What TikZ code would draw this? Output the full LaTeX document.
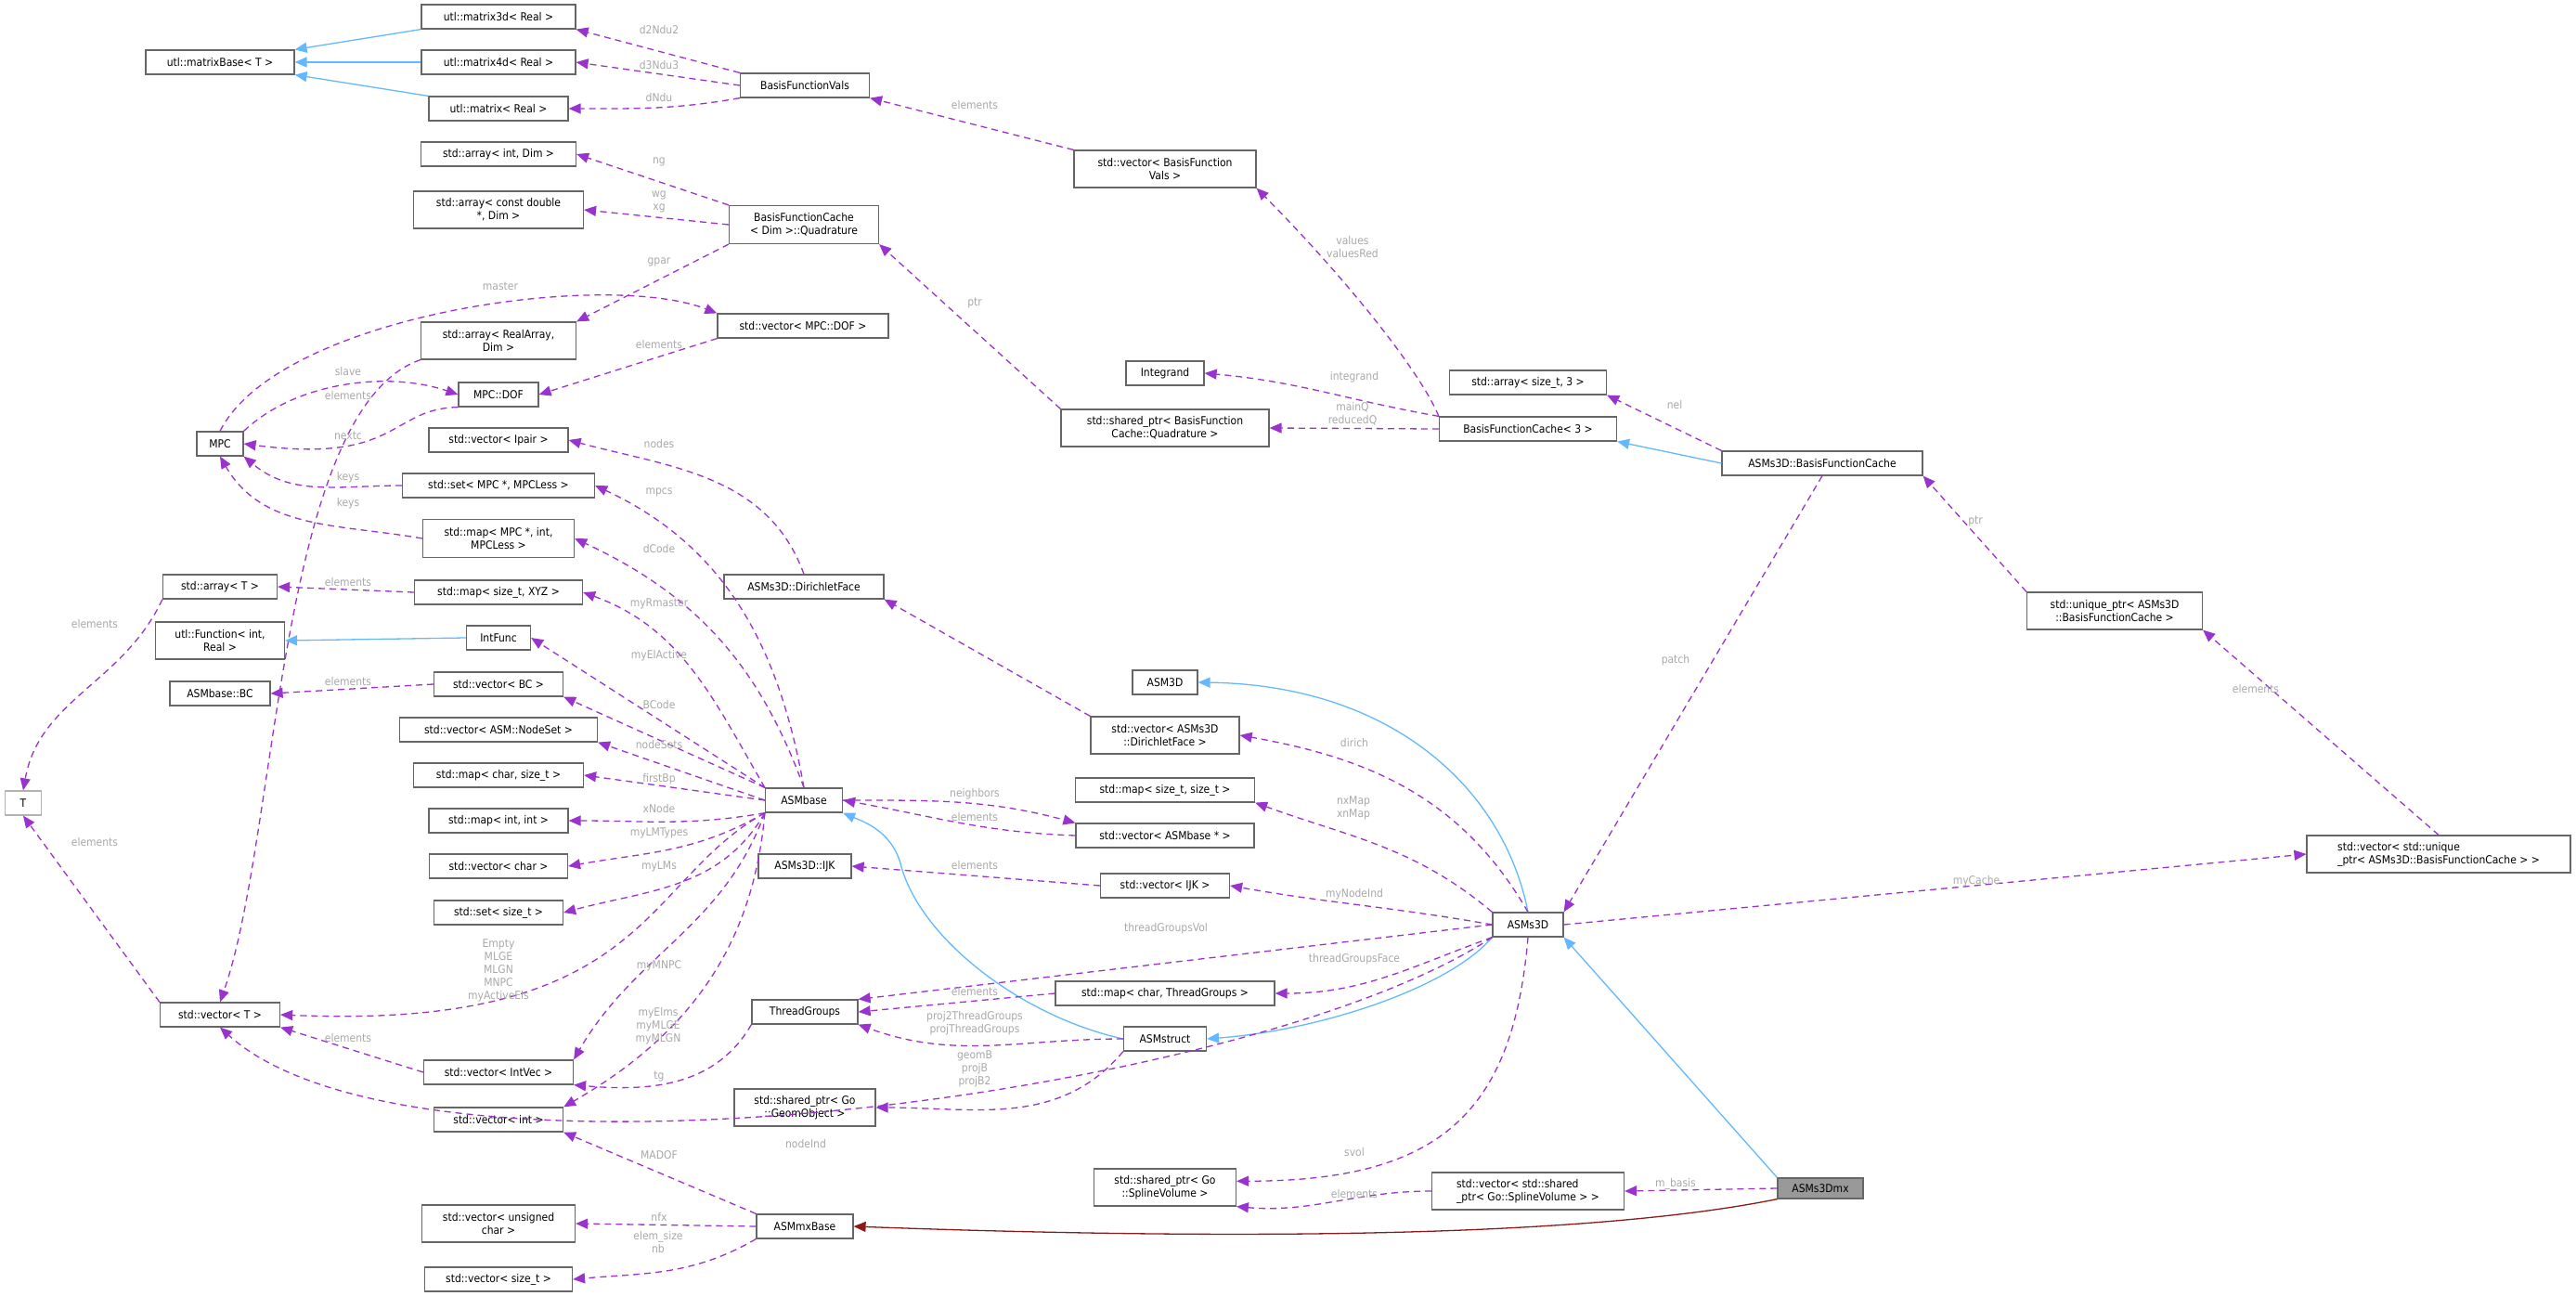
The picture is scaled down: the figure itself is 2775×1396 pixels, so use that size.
\documentclass[tikz,border=0pt]{standalone}
\usepackage{fontspec}
\setmainfont{DejaVu Sans Condensed}
\usetikzlibrary{arrows.meta}
\definecolor{dep}{HTML}{9A32CD}
\definecolor{inh}{HTML}{63B8FF}
\definecolor{red}{HTML}{8B1A1A}
\definecolor{lblc}{HTML}{A8A8A8}
\begin{document}
\begin{tikzpicture}[x=1pt,y=1pt,
 box/.style={draw=black!60,line width=1.2pt,fill=white,inner sep=2pt,font=\fontsize{12}{14}\selectfont,align=center},
 dep/.style={draw=dep,line width=1.3pt,dash pattern=on 7pt off 5pt,-{Triangle[length=13pt,width=11pt]}},
 inh/.style={draw=inh,line width=1.3pt,-{Triangle[length=13pt,width=11pt]}},
 red/.style={draw=red,line width=1.3pt,-{Triangle[length=13pt,width=11pt]}},
 lbl/.style={text=lblc,font=\fontsize{12}{14}\selectfont,align=center,inner sep=0pt}]
\useasboundingbox (0,0) rectangle (2775,-1396);
\newcommand\bx[6]{\node[box,minimum width=#4,minimum height=#5] (#1) at (#2,-#3) {#6};}
\bx{mb}{237}{67}{160}{26}{utl::matrixBase< T >}
\bx{m3}{537}{18}{166}{26}{utl::matrix3d< Real >}
\bx{m4}{537}{67}{166}{26}{utl::matrix4d< Real >}
\bx{mr}{537}{117}{150}{26}{utl::matrix< Real >}
\bx{bfv}{867}{92}{139}{26}{BasisFunctionVals}
\bx{aid}{537}{166}{167}{26}{std::array< int, Dim >}
\bx{acd}{537}{226}{183}{40}{std::array< const double\\ *, Dim >}
\bx{quad}{866}{242}{161}{41}{BasisFunctionCache\\ < Dim >::Quadrature}
\bx{ara}{537}{367}{167}{40}{std::array< RealArray,\\ Dim >}
\bx{vdof}{865}{351}{184}{26}{std::vector< MPC::DOF >}
\bx{dof}{537}{425}{86}{26}{MPC::DOF}
\bx{mpc}{237}{478}{50}{26}{MPC}
\bx{vip}{537}{474}{150}{26}{std::vector< Ipair >}
\bx{smpc}{537}{523}{207}{26}{std::set< MPC *, MPCLess >}
\bx{mmpc}{537}{580}{163}{41}{std::map< MPC *, int,\\ MPCLess >}
\bx{arT}{237}{632}{123}{26}{std::array< T >}
\bx{mxyz}{537}{638}{181}{26}{std::map< size\_t, XYZ >}
\bx{ufun}{237}{690}{139}{40}{utl::Function< int,\\ Real >}
\bx{ifn}{537}{687}{69}{26}{IntFunc}
\bx{bc}{237}{747}{108}{26}{ASMbase::BC}
\bx{vbc}{537}{737}{139}{26}{std::vector< BC >}
\bx{vns}{537}{786}{213}{26}{std::vector< ASM::NodeSet >}
\bx{mcs}{537}{835}{183}{26}{std::map< char, size\_t >}
\node[box,draw=black!30,minimum width=39,minimum height=26] (T) at (25,-865) {T};
\bx{asmb}{866}{862}{83}{26}{ASMbase}
\bx{mii}{537}{884}{150}{26}{std::map< int, int >}
\bx{vch}{537}{933}{149}{26}{std::vector< char >}
\bx{ssz}{537}{983}{139}{26}{std::set< size\_t >}
\bx{vT}{237}{1093}{129}{26}{std::vector< T >}
\bx{viv}{537}{1155}{161}{26}{std::vector< IntVec >}
\bx{vint}{537}{1206}{139}{26}{std::vector< int >}
\bx{tg}{867}{1090}{114}{26}{ThreadGroups}
\bx{geo}{867}{1193}{152}{40}{std::shared\_ptr< Go\\ ::GeomObject >}
\bx{vuc}{537}{1318}{165}{40}{std::vector< unsigned\\ char >}
\bx{mx}{867}{1321}{104}{26}{ASMmxBase}
\bx{vsz}{537}{1378}{159}{26}{std::vector< size\_t >}
\bx{dface}{866}{632}{172}{26}{ASMs3D::DirichletFace}
\bx{ijk}{867}{933}{100}{26}{ASMs3D::IJK}
\bx{vbfv}{1255}{182}{196}{40}{std::vector< BasisFunction\\ Vals >}
\bx{intg}{1255}{402}{84}{26}{Integrand}
\bx{sq}{1255}{461}{224}{40}{std::shared\_ptr< BasisFunction\\ Cache::Quadrature >}
\bx{bfc3}{1646}{462}{191}{26}{BasisFunctionCache< 3 >}
\bx{as3}{1646}{412}{169}{26}{std::array< size\_t, 3 >}
\bx{abfc}{1963}{499}{216}{26}{ASMs3D::BasisFunctionCache}
\bx{uptr}{2278}{658}{189}{40}{std::unique\_ptr< ASMs3D\\ ::BasisFunctionCache >}
\node[box,align=left,minimum width=284,minimum height=40] (vup) at (2627,-920) {std::vector< std::unique\\ \_ptr< ASMs3D::BasisFunctionCache > >};
\bx{asm3d}{1255}{735}{70}{26}{ASM3D}
\bx{vdf}{1255}{792}{160}{40}{std::vector< ASMs3D\\ ::DirichletFace >}
\bx{mss}{1255}{851}{193}{26}{std::map< size\_t, size\_t >}
\bx{vab}{1255}{900}{192}{26}{std::vector< ASMbase * >}
\bx{vijk}{1255}{954}{139}{26}{std::vector< IJK >}
\bx{s3d}{1646}{996}{76}{26}{ASMs3D}
\bx{mctg}{1255}{1070}{236}{26}{std::map< char, ThreadGroups >}
\bx{ast}{1255}{1119}{89}{26}{ASMstruct}
\bx{spv}{1255}{1279}{153}{40}{std::shared\_ptr< Go\\ ::SplineVolume >}
\node[box,align=left,minimum width=207,minimum height=40] (vspv) at (1646,-1283) {std::vector< std::shared\\ \_ptr< Go::SplineVolume > >};
\node[box,fill=black!40,minimum width=92,minimum height=22] (s3mx) at (1961,-1280) {ASMs3Dmx};
% inheritance
\draw[inh] (m3.south west) -- (mb.north east);
\draw[inh] (m4.west) -- (mb.east);
\draw[inh] (mr.north west) -- (mb.south east);
\draw[inh] (ifn.west) -- (ufun.east);
\draw[inh] (abfc.west) -- (bfc3.south east);
\draw[inh] (s3d.north) .. controls (1620,-850) and (1500,-738) .. (asm3d.east);
\draw[inh] (s3d.south west) .. controls (1560,-1065) and (1420,-1110) .. (ast.east);
\draw[inh] (ast.west) .. controls (1100,-1095) and (990,-1010) .. (970,-930) .. controls (960,-895) and (930,-885) .. (asmb.south east);
\draw[inh] (s3mx.north west) -- (s3d.south east);
\draw[red] (s3mx.south west) .. controls (1700,-1335) and (1300,-1335) .. (mx.east);
% dependencies
\draw[dep] (bfv.north west) -- (m3.south east);
\draw[dep] (bfv.west) -- (m4.east);
\draw[dep] (bfv.south west) to[out=190,in=0] (mr.east);
\draw[dep] (vbfv.north west) -- (bfv.south east);
\draw[dep] (quad.north west) -- (aid.east);
\draw[dep] (quad.west) -- (acd.east);
\draw[dep] (quad.south west) -- (ara.north east);
\draw[dep] (sq.north west) -- (quad.south east);
\draw[dep] (mpc.north) .. controls (300,-340) and (650,-290) .. (vdof.north west);
\draw[dep] (vdof.south west) -- (dof.east);
\draw[dep] (mpc.north east) .. controls (320,-410) and (420,-400) .. (dof.west);
\draw[dep] (dof.south west) .. controls (420,-440) and (430,-500) .. (mpc.east);
\draw[dep] (ara.south west) .. controls (300,-440) and (300,-900) .. (vT.north);
\draw[dep] (smpc.west) to[out=180,in=-40] (mpc.south east);
\draw[dep] (mmpc.west) to[out=170,in=-60] (mpc.south);
\draw[dep] (mxyz.west) -- (arT.east);
\draw[dep] (arT.south west) to[out=-115,in=80] (T.north);
\draw[dep] (vbc.west) -- (bc.east);
\draw[dep] (vT.north west) -- (T.south);
\draw[dep] (viv.west) -- (vT.south east);
\draw[dep] (dface.north) to[out=110,in=-15] (vip.east);
\draw[dep] (asmb.north) to[out=100,in=-25] (smpc.east);
\draw[dep] (asmb.north) to[out=110,in=-25] (mmpc.east);
\draw[dep] (asmb.north west) to[out=120,in=-20] (mxyz.east);
\draw[dep] (asmb.north west) -- (ifn.east);
\draw[dep] (asmb.north west) -- (vbc.south east);
\draw[dep] (asmb.west) -- (vns.south east);
\draw[dep] (asmb.west) -- (mcs.east);
\draw[dep] (asmb.south west) to[out=190,in=0] (mii.east);
\draw[dep] (asmb.south west) to[out=210,in=10] (vch.east);
\draw[dep] (asmb.south west) to[out=240,in=15] (ssz.east);
\draw[dep] (asmb.south west) .. controls (690,-950) and (700,-1110) .. (vT.east);
\draw[dep] (asmb.south west) to[out=250,in=60] (viv.north east);
\draw[dep] (asmb.south west) to[out=265,in=30] (vint.north east);
\draw[dep] (asmb.east) to[out=0,in=165] (vab.north west);
\draw[dep] (vab.west) to[out=178,in=-10] (asmb.east);
\draw[dep] (vdf.north west) -- (dface.south east);
\draw[dep] (vijk.west) -- (ijk.east);
\draw[dep] (tg.south west) to[out=240,in=-5] (viv.south east);
\draw[dep] (mctg.west) -- (tg.east);
\draw[dep] (ast.west) to[out=180,in=-20] (tg.south east);
\draw[dep] (ast.south west) to[out=-130,in=0] (geo.east);
\draw[dep] (s3d.west) -- (tg.north east);
\draw[dep] (s3d.south west) to[out=200,in=0] (mctg.east);
\draw[dep] (s3d.west) to[out=170,in=-10] (vijk.east);
\draw[dep] (s3d.north west) to[out=140,in=-20] (mss.south east);
\draw[dep] (s3d.north) to[out=120,in=-10] (vdf.east);
\draw[dep] (s3d.south west) .. controls (1350,-1180) and (450,-1300) .. (vT.south);
\draw[dep] (s3d.south) .. controls (1630,-1200) and (1550,-1272) .. (spv.5);
\draw[dep] (s3d.east) -- (vup.west);
\draw[dep] (abfc.south) -- (s3d.north east);
\draw[dep] (abfc.north west) -- (as3.south east);
\draw[dep] (uptr.north west) -- (abfc.south east);
\draw[dep] (vup.north) -- (uptr.south east);
\draw[dep] (bfc3.north west) to[out=170,in=-5] (intg.east);
\draw[dep] (bfc3.west) -- (sq.east);
\draw[dep] (bfc3.north west) .. controls (1530,-400) and (1450,-300) .. (vbfv.south east);
\draw[dep] (vspv.west) to[out=180,in=-5] (spv.-15);
\draw[dep] (s3mx.west) -- (vspv.east);
\draw[dep] (mx.north west) -- (vint.south east);
\draw[dep] (mx.west) -- (vuc.east);
\draw[dep] (mx.south west) to[out=-150,in=5] (vsz.east);
% labels
\node[lbl] (l1) at (710,-32) {d2Ndu2};
\node[lbl] (l2) at (710,-70) {d3Ndu3};
\node[lbl] (l3) at (710,-105) {dNdu};
\node[lbl] (l4) at (710,-174) {ng};
\node[lbl] (l5) at (710,-217) {wg\\xg};
\node[lbl] (l6) at (710,-282) {gpar};
\node[lbl] (l7) at (539,-308) {master};
\node[lbl] (l8) at (710,-371) {elements};
\node[lbl] (l9) at (375,-400) {slave};
\node[lbl] (l10) at (375,-426) {elements};
\node[lbl] (l11) at (375,-469) {nextc};
\node[lbl] (l12) at (710,-478) {nodes};
\node[lbl] (l13) at (375,-514) {keys};
\node[lbl] (l14) at (375,-542) {keys};
\node[lbl] (l15) at (710,-530) {mpcs};
\node[lbl] (l16) at (710,-591) {dCode};
\node[lbl] (l17) at (375,-627) {elements};
\node[lbl] (l18) at (102,-672) {elements};
\node[lbl] (l19) at (710,-650) {myRmaster};
\node[lbl] (l20) at (710,-706) {myElActive};
\node[lbl] (l21) at (375,-734) {elements};
\node[lbl] (l22) at (710,-759) {BCode};
\node[lbl] (l23) at (710,-802) {nodeSets};
\node[lbl] (l24) at (710,-839) {firstBp};
\node[lbl] (l25) at (710,-871) {xNode};
\node[lbl] (l26) at (710,-897) {myLMTypes};
\node[lbl] (l27) at (710,-933) {myLMs};
\node[lbl] (l28) at (102,-907) {elements};
\node[lbl] (l29) at (537,-1045) {Empty\\MLGE\\MLGN\\MNPC\\myActiveEls};
\node[lbl] (l30) at (710,-1040) {myMNPC};
\node[lbl] (l31) at (709,-1105) {myElms\\myMLGE\\myMLGN};
\node[lbl] (l32) at (375,-1118) {elements};
\node[lbl] (l33) at (710,-1160) {tg};
\node[lbl] (l34) at (868,-1232) {nodeInd};
\node[lbl] (l35) at (710,-1244) {MADOF};
\node[lbl] (l36) at (710,-1311) {nfx};
\node[lbl] (l37) at (709,-1338) {elem\_size\\nb};
\node[lbl] (l38) at (1050,-113) {elements};
\node[lbl] (l39) at (1457,-266) {values\\valuesRed};
\node[lbl] (l40) at (1050,-327) {ptr};
\node[lbl] (l41) at (1459,-406) {integrand};
\node[lbl] (l42) at (1457,-446) {mainQ\\reducedQ};
\node[lbl] (l43) at (1804,-436) {nel};
\node[lbl] (l44) at (2128,-562) {ptr};
\node[lbl] (l45) at (2430,-742) {elements};
\node[lbl] (l46) at (2129,-949) {myCache};
\node[lbl] (l47) at (1805,-711) {patch};
\node[lbl] (l48) at (1459,-800) {dirich};
\node[lbl] (l49) at (1458,-870) {nxMap\\xnMap};
\node[lbl] (l50) at (1050,-855) {neighbors};
\node[lbl] (l51) at (1050,-880) {elements};
\node[lbl] (l52) at (1050,-932) {elements};
\node[lbl] (l53) at (1459,-963) {myNodeInd};
\node[lbl] (l54) at (1256,-1000) {threadGroupsVol};
\node[lbl] (l55) at (1459,-1033) {threadGroupsFace};
\node[lbl] (l56) at (1050,-1068) {elements};
\node[lbl] (l57) at (1050,-1102) {proj2ThreadGroups\\projThreadGroups};
\node[lbl] (l58) at (1050,-1151) {geomB\\projB\\projB2};
\node[lbl] (l59) at (1459,-1241) {svol};
\node[lbl] (l60) at (1459,-1286) {elements};
\node[lbl] (l61) at (1805,-1275) {m\_basis};
\end{tikzpicture}
\end{document}
